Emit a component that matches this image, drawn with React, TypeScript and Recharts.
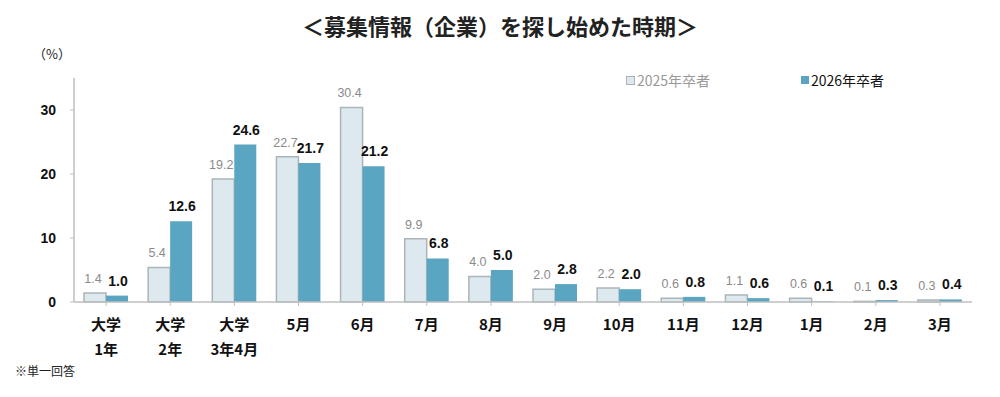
import React from "react";
import { BarChart, Bar, XAxis, YAxis, LabelList } from "recharts";

const periods = ["大学\n1年", "大学\n2年", "大学\n3年4月", "5月", "6月", "7月", "8月", "9月", "10月", "11月", "12月", "1月", "2月", "3月"];
const grad2025 = [1.4, 5.4, 19.2, 22.7, 30.4, 9.9, 4.0, 2.0, 2.2, 0.6, 1.1, 0.6, 0.1, 0.3];
const grad2026 = [1.0, 12.6, 24.6, 21.7, 21.2, 6.8, 5.0, 2.8, 2.0, 0.8, 0.6, 0.1, 0.3, 0.4];
const yTicks = [0, 10, 20, 30];

const FONT = '"Liberation Sans", "Noto Sans CJK JP", sans-serif';
const JP = '"Noto Sans CJK JP", "Liberation Sans", sans-serif';

const data = periods.map((p, i) => ({ period: p, y2025: grad2025[i], y2026: grad2026[i] }));

const PeriodTick = (props: any) => {
  const { x, y, payload } = props;
  const lines = String(payload.value).split("\n");
  return (
    <g transform={`translate(${x},${y})`}>
      {lines.map((l, i) => (
        <text key={i} x={0} y={22 + i * 25} textAnchor="middle" fontSize={15} fontWeight="bold" fill="#111" fontFamily={JP}>
          {l}
        </text>
      ))}
    </g>
  );
};

export default function App() {
  return (
    <div style={{ position: "absolute", left: 0, top: 0, width: 1000, height: 397, background: "#fff", fontFamily: FONT }}>
      <div style={{ position: "absolute", left: 0, top: 9, width: 1000, textAlign: "center", fontFamily: JP, fontWeight: "bold", fontSize: 22, color: "#222" }}>
        ＜募集情報（企業）を探し始めた時期＞
      </div>
      <div style={{ position: "absolute", left: 33, top: 44, fontFamily: JP, fontSize: 13, color: "#222" }}>（%）</div>
      <div style={{ position: "absolute", left: 15, top: 362, fontFamily: JP, fontSize: 12, color: "#222" }}>※単一回答</div>
      <div style={{ position: "absolute", left: 626, top: 70, display: "flex", alignItems: "center", color: "#999", fontFamily: JP, fontSize: 14 }}>
        <span style={{ width: 7, height: 7, background: "#dde9ee", border: "1px solid #aab4b8", marginRight: 2 }} />
        2025年卒者
      </div>
      <div style={{ position: "absolute", left: 801, top: 70, display: "flex", alignItems: "center", color: "#111", fontFamily: JP, fontSize: 14 }}>
        <span style={{ width: 8, height: 8, background: "#5aa5c1", marginRight: 2 }} />
        2026年卒者
      </div>
      <BarChart
        width={1000}
        height={397}
        data={data}
        margin={{ top: 78, right: 28, left: 34, bottom: 45 }}
        barCategoryGap={10}
        barGap={0}
      >
        <XAxis
          dataKey="period"
          tick={<PeriodTick />}
          interval={0}
          height={50}
          axisLine={{ stroke: "#bfbfbf", strokeWidth: 1.5 }}
          tickLine={{ stroke: "#bfbfbf" }}
          tickSize={4}
        />
        <YAxis
          domain={[0, 35]}
          ticks={yTicks}
          width={40}
          tick={{ fontSize: 14, fontWeight: "bold", fill: "#111", fontFamily: FONT }}
          axisLine={{ stroke: "#bfbfbf", strokeWidth: 1.5 }}
          tickLine={{ stroke: "#bfbfbf" }}
          tickSize={4}
          tickMargin={14}
        />
        <Bar dataKey="y2025" name="2025年卒者" fill="#dde9ee" stroke="#aab5b9" strokeWidth={1.5} isAnimationActive={false}>
          <LabelList dataKey="y2025" position="top" offset={10} formatter={(v: any) => Number(v).toFixed(1)} style={{ fontSize: 12.5, fill: "#8a8a8a", fontFamily: FONT, transform: "translateX(-2px)" }} />
        </Bar>
        <Bar dataKey="y2026" name="2026年卒者" fill="#5aa5c1" isAnimationActive={false}>
          <LabelList dataKey="y2026" position="top" offset={10} formatter={(v: any) => Number(v).toFixed(1)} style={{ fontSize: 14, fontWeight: "bold", fill: "#111", fontFamily: FONT, transform: "translateX(1px)" }} />
        </Bar>
      </BarChart>
    </div>
  );
}
